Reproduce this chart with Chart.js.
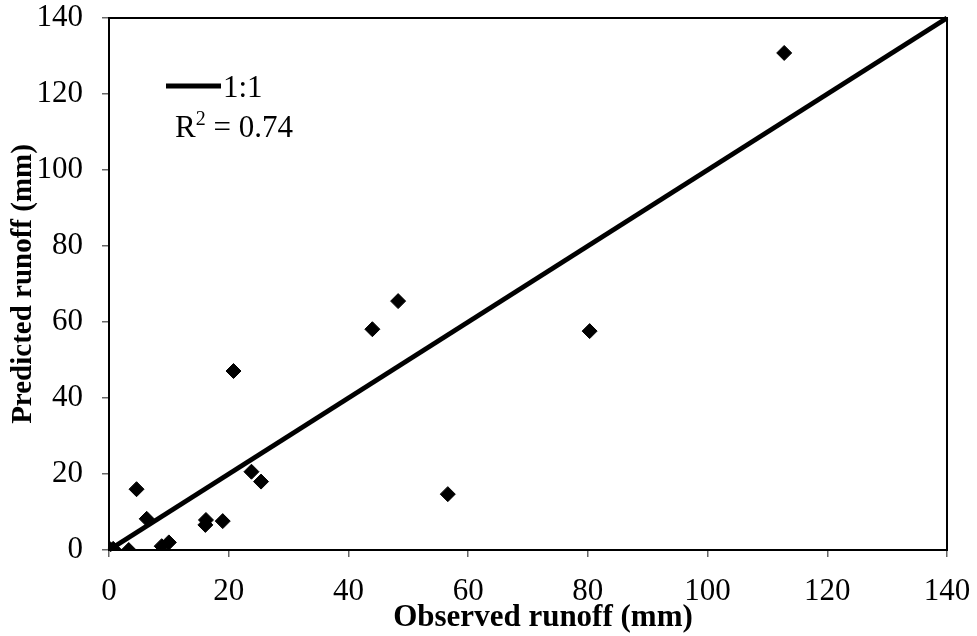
<!DOCTYPE html>
<html>
<head>
<meta charset="utf-8">
<script src="https://cdn.jsdelivr.net/npm/chart.js@4/dist/chart.umd.min.js"></script>
<style>
  html, body { margin: 0; padding: 0; background: #fff; }
  #wrap { width: 977px; height: 636px; }
</style>
</head>
<body>
<div id="wrap"><canvas id="c" width="977" height="636"></canvas></div>
<script>
const observed  = [0.2, 0.7, 3.3, 4.6, 6.3, 8.8, 10.0, 16.1, 16.2, 19.0, 20.8, 23.8, 25.4, 44.0, 48.3, 56.6, 80.3, 112.8];
const predicted = [0.2, 0.3, 0.0, 16.0, 8.2, 1.0, 2.0, 6.6, 7.9, 7.6, 47.1, 20.6, 18.0, 58.1, 65.5, 14.7, 57.6, 130.8];
const oneToOneX = [0, 140];
const oneToOneY = [0, 140];
const axisMin = 0, axisMax = 140, axisStep = 20;
const xTitle = 'Observed runoff (mm)';
const yTitle = 'Predicted runoff (mm)';
const legendLabel = '1:1';
const r2Text = '0.74';

const FONT = "'Liberation Serif', 'Times New Roman', serif";

const points = observed.map((x, i) => ({ x: x, y: predicted[i] }));
const line = oneToOneX.map((x, i) => ({ x: x, y: oneToOneY[i] }));

const framePlugin = {
  id: 'frame',
  afterDatasetsDraw(chart) {
    const { ctx, chartArea: a } = chart;
    ctx.save();
    ctx.strokeStyle = '#000';
    ctx.lineWidth = 2;
    ctx.strokeRect(a.left, a.top, a.right - a.left, a.bottom - a.top);
    ctx.restore();
  },
  afterDraw(chart) {
    const { ctx } = chart;
    ctx.save();
    ctx.fillStyle = '#000';
    // x-axis title
    ctx.font = "bold 31px " + FONT;
    ctx.textAlign = 'center';
    ctx.textBaseline = 'alphabetic';
    ctx.fillText(xTitle, 543, 626);
    // legend sample for 1:1 line
    ctx.strokeStyle = '#000';
    ctx.lineWidth = 5;
    ctx.beginPath();
    ctx.moveTo(166, 86);
    ctx.lineTo(221, 86);
    ctx.stroke();
    ctx.font = "31px " + FONT;
    ctx.textAlign = 'left';
    ctx.fillText(legendLabel, 223, 97);
    // R² text
    let x0 = 175;
    ctx.fillText('R', x0, 137);
    x0 += ctx.measureText('R').width;
    ctx.font = "20px " + FONT;
    ctx.fillText('2', x0, 125);
    x0 += ctx.measureText('2').width;
    ctx.font = "31px " + FONT;
    ctx.fillText(' = ' + r2Text, x0, 137);
    ctx.restore();
  }
};

new Chart(document.getElementById('c'), {
  type: 'scatter',
  data: {
    datasets: [
      {
        label: 'Data',
        data: points,
        pointStyle: 'rectRot',
        pointRadius: 7.5,
        pointBackgroundColor: '#000',
        pointBorderColor: '#000',
        pointBorderWidth: 1,
        showLine: false,
        order: 1
      },
      {
        label: legendLabel,
        type: 'line',
        data: line,
        borderColor: '#000',
        borderWidth: 5,
        pointRadius: 0,
        fill: false,
        clip: false,
        order: 2
      }
    ]
  },
  options: {
    responsive: false,
    animation: false,
    devicePixelRatio: 1,
    layout: { padding: { top: 18, right: 30, left: 0, bottom: 0 } },
    plugins: { legend: { display: false }, tooltip: { enabled: false } },
    scales: {
      x: {
        type: 'linear',
        min: axisMin, max: axisMax,
        ticks: { stepSize: axisStep, color: '#000', font: { family: FONT, size: 31 }, padding: 16, maxRotation: 0 },
        grid: { drawOnChartArea: false, drawTicks: true, tickLength: 7, color: '#666', lineWidth: 1.5 },
        border: { display: true, color: '#000', width: 2 },
        title: { display: false },
        afterFit(s) { s.height = 86; s.paddingLeft = 0; s.paddingRight = 0; }
      },
      y: {
        type: 'linear',
        min: axisMin, max: axisMax,
        ticks: { stepSize: axisStep, color: '#000', font: { family: FONT, size: 31 }, padding: 19 },
        grid: { drawOnChartArea: false, drawTicks: true, tickLength: 7, color: '#666', lineWidth: 1.5 },
        border: { display: true, color: '#000', width: 2 },
        title: { display: true, text: yTitle, color: '#000', font: { family: FONT, size: 29, weight: 'bold' }, padding: { top: 6, bottom: 0 } },
        afterFit(s) { s.width = 109; s.paddingTop = 0; s.paddingBottom = 0; }
      }
    }
  },
  plugins: [framePlugin]
});
</script>
</body>
</html>
